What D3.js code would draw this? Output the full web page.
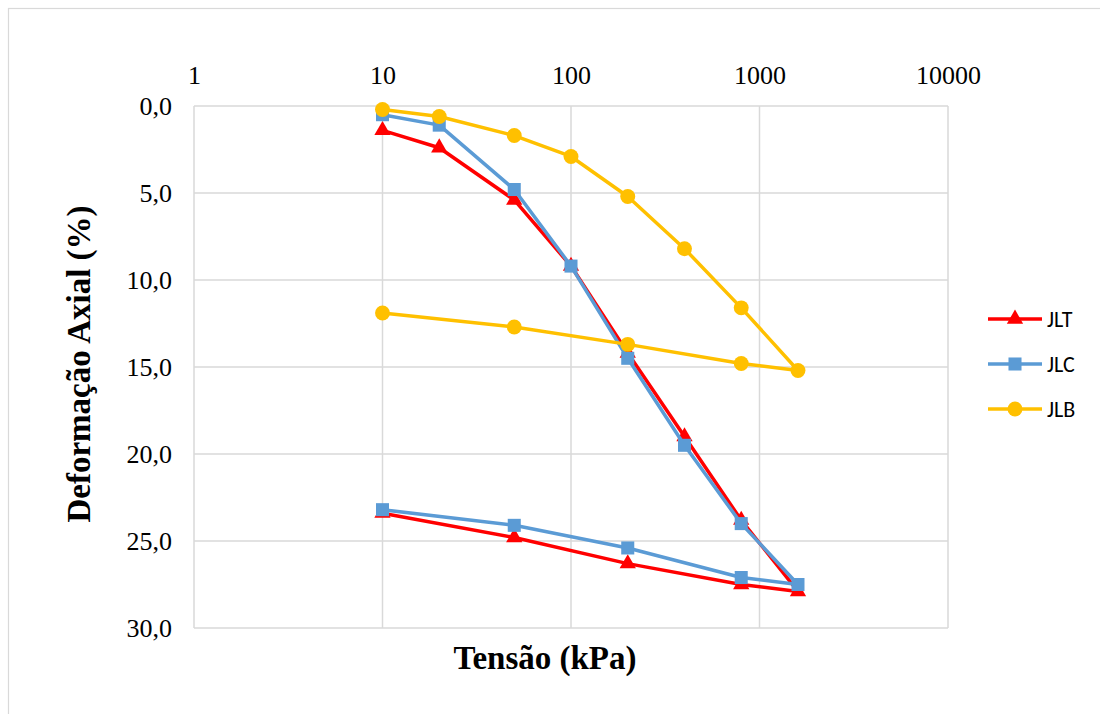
<!DOCTYPE html>
<html><head><meta charset="utf-8">
<script src="https://cdn.jsdelivr.net/npm/d3@7"></script>
<style>body{margin:0;background:#fff}</style>
</head><body>
<svg id="c" width="1100" height="714"></svg>
<script>
const xTicks = [1, 10, 100, 1000, 10000];
const yTicks = [0, 5, 10, 15, 20, 25, 30];
const stressJLT = [10, 20, 50, 100, 200, 400, 800, 1600, 800, 200, 50, 10];
const JLT = [1.4, 2.4, 5.4, 9.2, 14.2, 19.0, 23.8, 27.9, 27.5, 26.3, 24.8, 23.4];
const stressJLC = [10, 20, 50, 100, 200, 400, 800, 1600, 800, 200, 50, 10];
const JLC = [0.5, 1.1, 4.8, 9.2, 14.5, 19.5, 24.0, 27.5, 27.1, 25.4, 24.1, 23.2];
const stressJLB = [10, 20, 50, 100, 200, 400, 800, 1600, 800, 200, 50, 10];
const JLB = [0.2, 0.6, 1.7, 2.9, 5.2, 8.2, 11.6, 15.2, 14.8, 13.7, 12.7, 11.9];
const seriesNames = ["JLT", "JLC", "JLB"];
const colors = ["#FF0000", "#5B9BD5", "#FFC000"];

const SERIF = '"Liberation Serif", "Times New Roman", serif';
const svg = d3.select("#c");
svg.append("rect").attr("x", 8.5).attr("y", 8.5).attr("width", 1100).attr("height", 720)
  .attr("fill", "#fff").attr("stroke", "#d9d9d9").attr("stroke-width", 1.2);

const x = d3.scaleLog().domain([1, 10000]).range([194, 948]);
const y = d3.scaleLinear().domain([0, 30]).range([106, 628]);

const grid = svg.append("g");
xTicks.forEach(t => grid.append("line").attr("x1", x(t)).attr("x2", x(t)).attr("y1", y(0)).attr("y2", y(30))
  .attr("stroke", "#d9d9d9").attr("stroke-width", 1.5));
yTicks.forEach(t => grid.append("line").attr("x1", x(1)).attr("x2", x(10000)).attr("y1", y(t)).attr("y2", y(t))
  .attr("stroke", "#d9d9d9").attr("stroke-width", 1.5));

const fmt = v => d3.format(".1f")(v).replace(".", ",");
const xAxis = svg.append("g").attr("transform", `translate(0,${y(0)})`)
  .call(d3.axisTop(x).tickValues(xTicks).tickFormat(d3.format("d")).tickSize(0).tickPadding(22));
const yAxis = svg.append("g").attr("transform", `translate(${x(1)},0)`)
  .call(d3.axisLeft(y).tickValues(yTicks).tickFormat(fmt).tickSize(0).tickPadding(22));
[xAxis, yAxis].forEach(a => {
  a.attr("font-family", null).attr("font-size", null);
  a.select(".domain").remove();
  a.selectAll("text").style("font-family", SERIF).style("font-size", "26px").attr("fill", "#000");
});
yAxis.selectAll("text").attr("dy", "0.34em");

svg.append("text").attr("x", 545).attr("y", 669).attr("text-anchor", "middle")
  .style("font-family", SERIF).style("font-weight", "bold").style("font-size", "33px")
  .text("Tensão (kPa)");
svg.append("text").attr("transform", "translate(90,364) rotate(-90)").attr("text-anchor", "middle")
  .style("font-family", SERIF).style("font-weight", "bold").style("font-size", "33px")
  .text("Deformação Axial (%)");

const data = [
  stressJLT.map((s, i) => [s, JLT[i]]),
  stressJLC.map((s, i) => [s, JLC[i]]),
  stressJLB.map((s, i) => [s, JLB[i]])
];
const symbols = [d3.symbolTriangle, d3.symbolSquare, d3.symbolCircle];
const sizes = [115, 170, 175];
const line = d3.line().x(d => x(d[0])).y(d => y(d[1]));

data.forEach((d, i) => {
  const g = svg.append("g");
  g.append("path").attr("d", line(d)).attr("fill", "none").attr("stroke", colors[i])
    .attr("stroke-width", 3.5).attr("stroke-linejoin", "round");
  g.selectAll("path.m").data(d).enter().append("path").attr("class", "m")
    .attr("transform", p => `translate(${x(p[0])},${y(p[1])})`)
    .attr("d", d3.symbol().type(symbols[i]).size(sizes[i])).attr("fill", colors[i]);
});

// legend
const legY = [319, 364, 409];
seriesNames.forEach((n, i) => {
  const g = svg.append("g").attr("transform", `translate(0,${legY[i]})`);
  g.append("line").attr("x1", 988).attr("x2", 1042).attr("y1", 0).attr("y2", 0)
    .attr("stroke", colors[i]).attr("stroke-width", 3.5);
  g.append("path").attr("transform", "translate(1015,0)")
    .attr("d", d3.symbol().type(symbols[i]).size(sizes[i])).attr("fill", colors[i]);
  g.append("text").attr("x", 1047).attr("y", 0).attr("dy", "0.35em")
    .style("font-family", 'Carlito, "Liberation Sans", sans-serif').style("font-size", "22px")
    .attr("fill", "#000").text(n);
});
</script>
</body></html>
